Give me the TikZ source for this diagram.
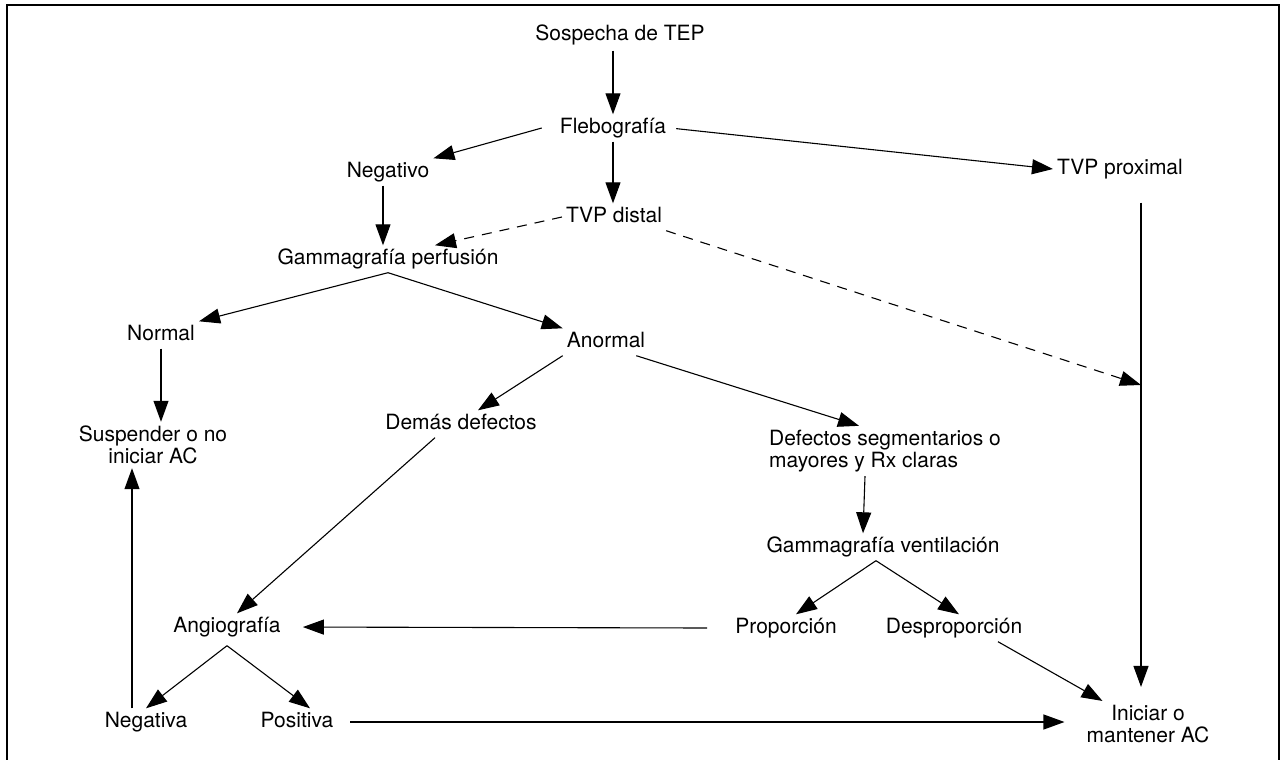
\documentclass[tikz,border=0pt]{standalone}
\usepackage{fontspec}
\setmainfont{TeX Gyre Heros}
\usetikzlibrary{arrows.meta}

\begin{document}
\begin{tikzpicture}[x=1pt, y=-1pt,
  every node/.style={font=\fontsize{21}{22}\selectfont, inner sep=4pt, text height=15pt, text depth=4pt},
  twoline/.style={text height=, text depth=},
  every edge/.style={draw, line width=1.1pt, -{Triangle[width=15pt,length=21pt]}},
  dashline/.style={dash pattern=on 10pt off 8pt}]

  \useasboundingbox (0,0) rectangle (1285,760);
  \draw[line width=1.3pt] (7,760) -- (7,5) -- (1279,5) -- (1279,760);

  \node (sos) at (620, 35) {Sospecha de TEP};
  \node (fle) at (613, 128) {Flebografía};
  \node (neg) at (388, 172) {Negativo};
  \node (tvpd) at (614, 217) {TVP distal};
  \node (tvpp) at (1120, 169) {TVP proximal};
  \node (gp) at (388, 259) {Gammagrafía perfusión};
  \node (nor) at (161, 335) {Normal};
  \node (anor) at (606, 342) {Anormal};
  \node (dem) at (461, 424) {Demás defectos};
  \node[twoline, align=center] (sus) at (153, 445) {Suspender o no\\iniciar AC};
  \node[twoline, align=left] (dseg) at (885, 451) {Defectos segmentarios o\\mayores y Rx claras};
  \node (gv) at (883, 547) {Gammagrafía ventilación};
  \node (ang) at (227, 627) {Angiografía};
  \node (prop) at (786, 628) {Proporción};
  \node (desp) at (954, 628) {Desproporción};
  \node (nega) at (146, 722) {Negativa};
  \node (posi) at (297, 722) {Positiva};
  \node[twoline, align=center] (ini) at (1148, 724) {Iniciar o\\mantener AC};

  \coordinate (pjoin) at (1141, 385);

  \path (sos.south -| fle) edge[shorten <=2pt] (fle);
  \path ([xshift=-14pt]fle.west) edge (neg.north east);
  \path (fle.south) edge (fle.south |- tvpd.north);
  \path (fle.east) edge[shorten <=6pt] (tvpp.west);

  \path ([xshift=-5pt]neg.south) edge ([xshift=-5pt]gp.north);
  \path (tvpd.west) edge[dashline] ([xshift=47pt]gp.north);
  \path (tvpd.south east) edge[dashline] (pjoin);
  \path (tvpp.south -| pjoin) edge[shorten <=20pt, shorten >=14pt] (ini.north -| pjoin);

  \path (gp.south) edge (nor.north east) edge (anor.north west);
  \path (nor.south) edge (nor.south |- sus.north);
  \path ([xshift=-14pt]nega.north) edge ([xshift=-14pt]nega.north |- sus.south);

  \path (anor.south west) edge ([xshift=17pt]dem.north);
  \path ([xshift=-13pt]anor.south east) edge ([xshift=-26pt]dseg.north);
  \path ([xshift=-26pt]dem.south) edge ([xshift=10pt]ang.north);
  \path ([xshift=-20pt]dseg.south) edge ([xshift=-20pt]gv.north);

  \path ([xshift=-7pt]gv.south) edge ([xshift=10pt]prop.north) edge ([xshift=5pt]desp.north);
  \path ([xshift=-24pt]prop.west) edge[shorten >=18pt] (ang.east);
  \path ([yshift=-5pt]ang.south) edge (nega.north) edge ([xshift=13pt]posi.north);

  \path (posi.east) edge[shorten <=13pt, shorten >=18pt] (posi.east -| ini.west);
  \path ([xshift=44pt]desp.south) edge ([xshift=20pt]ini.north west);

\end{tikzpicture}
\end{document}
